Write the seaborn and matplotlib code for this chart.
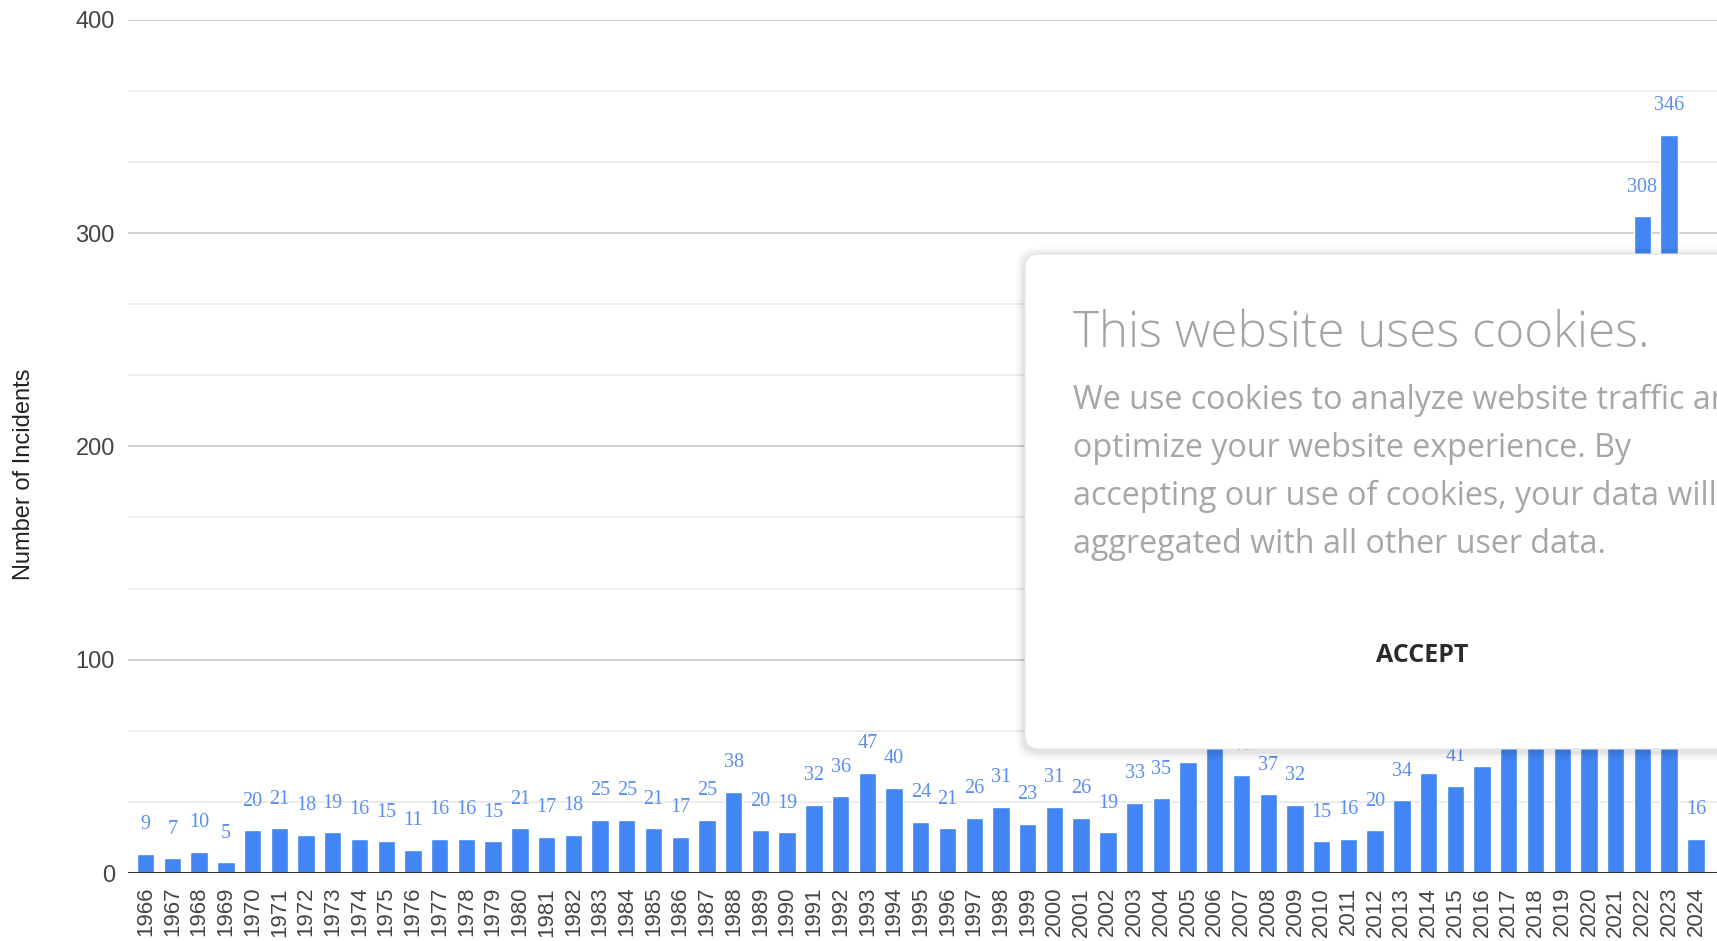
import matplotlib
matplotlib.use("Agg")
import matplotlib.pyplot as plt
import seaborn as sns
import pandas as pd
from matplotlib.patches import FancyBboxPatch
from matplotlib.transforms import IdentityTransform
from matplotlib.ticker import MultipleLocator, FixedLocator

# ---------------- data ----------------
years = [str(y) for y in range(1966, 2025)]
incidents = [9, 7, 10, 5,
             20, 21, 18, 19, 16, 15, 11, 16, 16, 15,
             21, 17, 18, 25, 25, 21, 17, 25, 38, 20,
             19, 32, 36, 47, 40, 24, 21, 26, 31, 23,
             31, 26, 19, 33, 35, 52, 64, 46, 37, 32,
             15, 16, 20, 34, 47, 41, 50, 62, 120, 119,
             114, 250, 308, 346, 16]
y_ticks = [0, 100, 200, 300, 400]
y_label = "Number of Incidents"

popup_title = "This website uses cookies."
popup_lines = ["We use cookies to analyze website traffic and",
               "optimize your website experience. By",
               "accepting our use of cookies, your data will be",
               "aggregated with all other user data."]
popup_button = "ACCEPT"

df = pd.DataFrame({"year": years, "incidents": incidents})

# ---------------- figure ----------------
W, H = 1717, 941
sns.set_theme(style="white")
plt.rcParams["font.family"] = ["Liberation Sans", "DejaVu Sans"]

fig = plt.figure(figsize=(W / 100, H / 100), dpi=100)
fig.patch.set_facecolor("white")

ax_left, ax_bottom, ax_top = 128, 873, 19.7
ax = fig.add_axes([ax_left / W, 1 - ax_bottom / H, (W - ax_left) / W, (ax_bottom - ax_top) / H])

sns.barplot(data=df, x="year", y="incidents", color="#4285f4", saturation=1,
            width=0.65, ax=ax, zorder=3)

ax.set_ylim(0, 400)
ax.set_xlim(-0.66, 58.79)
ax.yaxis.set_major_locator(FixedLocator(y_ticks))
ax.yaxis.set_minor_locator(MultipleLocator(100 / 3))
ax.grid(which="major", axis="y", color="#cccccc", lw=1.3, zorder=0)
ax.grid(which="minor", axis="y", color="#ebebeb", lw=1.3, zorder=0)
ax.grid(axis="x", visible=False)
ax.axhline(0, color="#333333", lw=2.2, zorder=4)
for s in ax.spines.values():
    s.set_visible(False)

ax.tick_params(axis="y", which="both", length=0, pad=9.5, labelsize=17, labelcolor="#444444")
ax.tick_params(axis="x", length=0, pad=10, labelsize=16, labelcolor="#444444")
plt.setp(ax.get_xticklabels(), rotation=90)

ax.set_xlabel("")
ax.set_ylabel(y_label, fontsize=17, color="#222222")
ax.yaxis.label.set_va("center")
ax.yaxis.set_label_coords((24 - ax_left) / (W - ax_left), (ax_bottom - 474) / (ax_bottom - ax_top))

value_labels = ax.bar_label(ax.containers[0], labels=[str(v) for v in incidents], padding=14,
                            fontsize=14.5, color="#5a8ef2",
                            family=["Liberation Serif", "DejaVu Serif"])

# ---------------- cookie popup overlay ----------------
bx0, by_top, by_bot = 1025, 254, 749
bw = W - bx0 + 60
for pad, alpha in [(9, 0.025), (6, 0.035), (3, 0.05)]:
    sh = FancyBboxPatch((bx0 - pad, H - by_bot - pad - 2), bw + 2 * pad, (by_bot - by_top) + 2 * pad,
                        boxstyle="round,pad=0,rounding_size=%d" % (14 + pad),
                        facecolor="black", edgecolor="none", alpha=alpha)
    sh.set_transform(IdentityTransform())
    sh.set_zorder(20)
    fig.add_artist(sh)
box = FancyBboxPatch((bx0, H - by_bot), bw, by_bot - by_top,
                     boxstyle="round,pad=0,rounding_size=14",
                     facecolor="white", edgecolor="#e6e6e6", lw=0.8)
box.set_transform(IdentityTransform())
box.set_zorder(21)
fig.add_artist(box)

osans = ["Open Sans", "DejaVu Sans"]
fig.text(1073, H - 347, popup_title, fontsize=35.5, color="#a3a3a3", family=osans,
         fontweight="light", ha="left", va="baseline", transform=IdentityTransform(), zorder=22)
for i, line in enumerate(popup_lines):
    fig.text(1073, H - 409 - 48 * i, line, fontsize=23.2, color="#a6a6a6", family=osans,
             ha="left", va="baseline", transform=IdentityTransform(), zorder=22)
fig.text(1422, H - 662, popup_button, fontsize=18, color="#2b2b2b", family=osans,
         fontweight="bold", ha="center", va="baseline", transform=IdentityTransform(), zorder=22)

# value labels that fall entirely beneath the popup are not visible in the reference
fig.canvas.draw()
renderer = fig.canvas.get_renderer()
for txt in value_labels:
    bb = txt.get_window_extent(renderer)
    if bb.x0 >= bx0 and bb.y0 >= H - by_bot and bb.y1 <= H - by_top:
        txt.set_visible(False)

fig.savefig("out.png", dpi=100)
